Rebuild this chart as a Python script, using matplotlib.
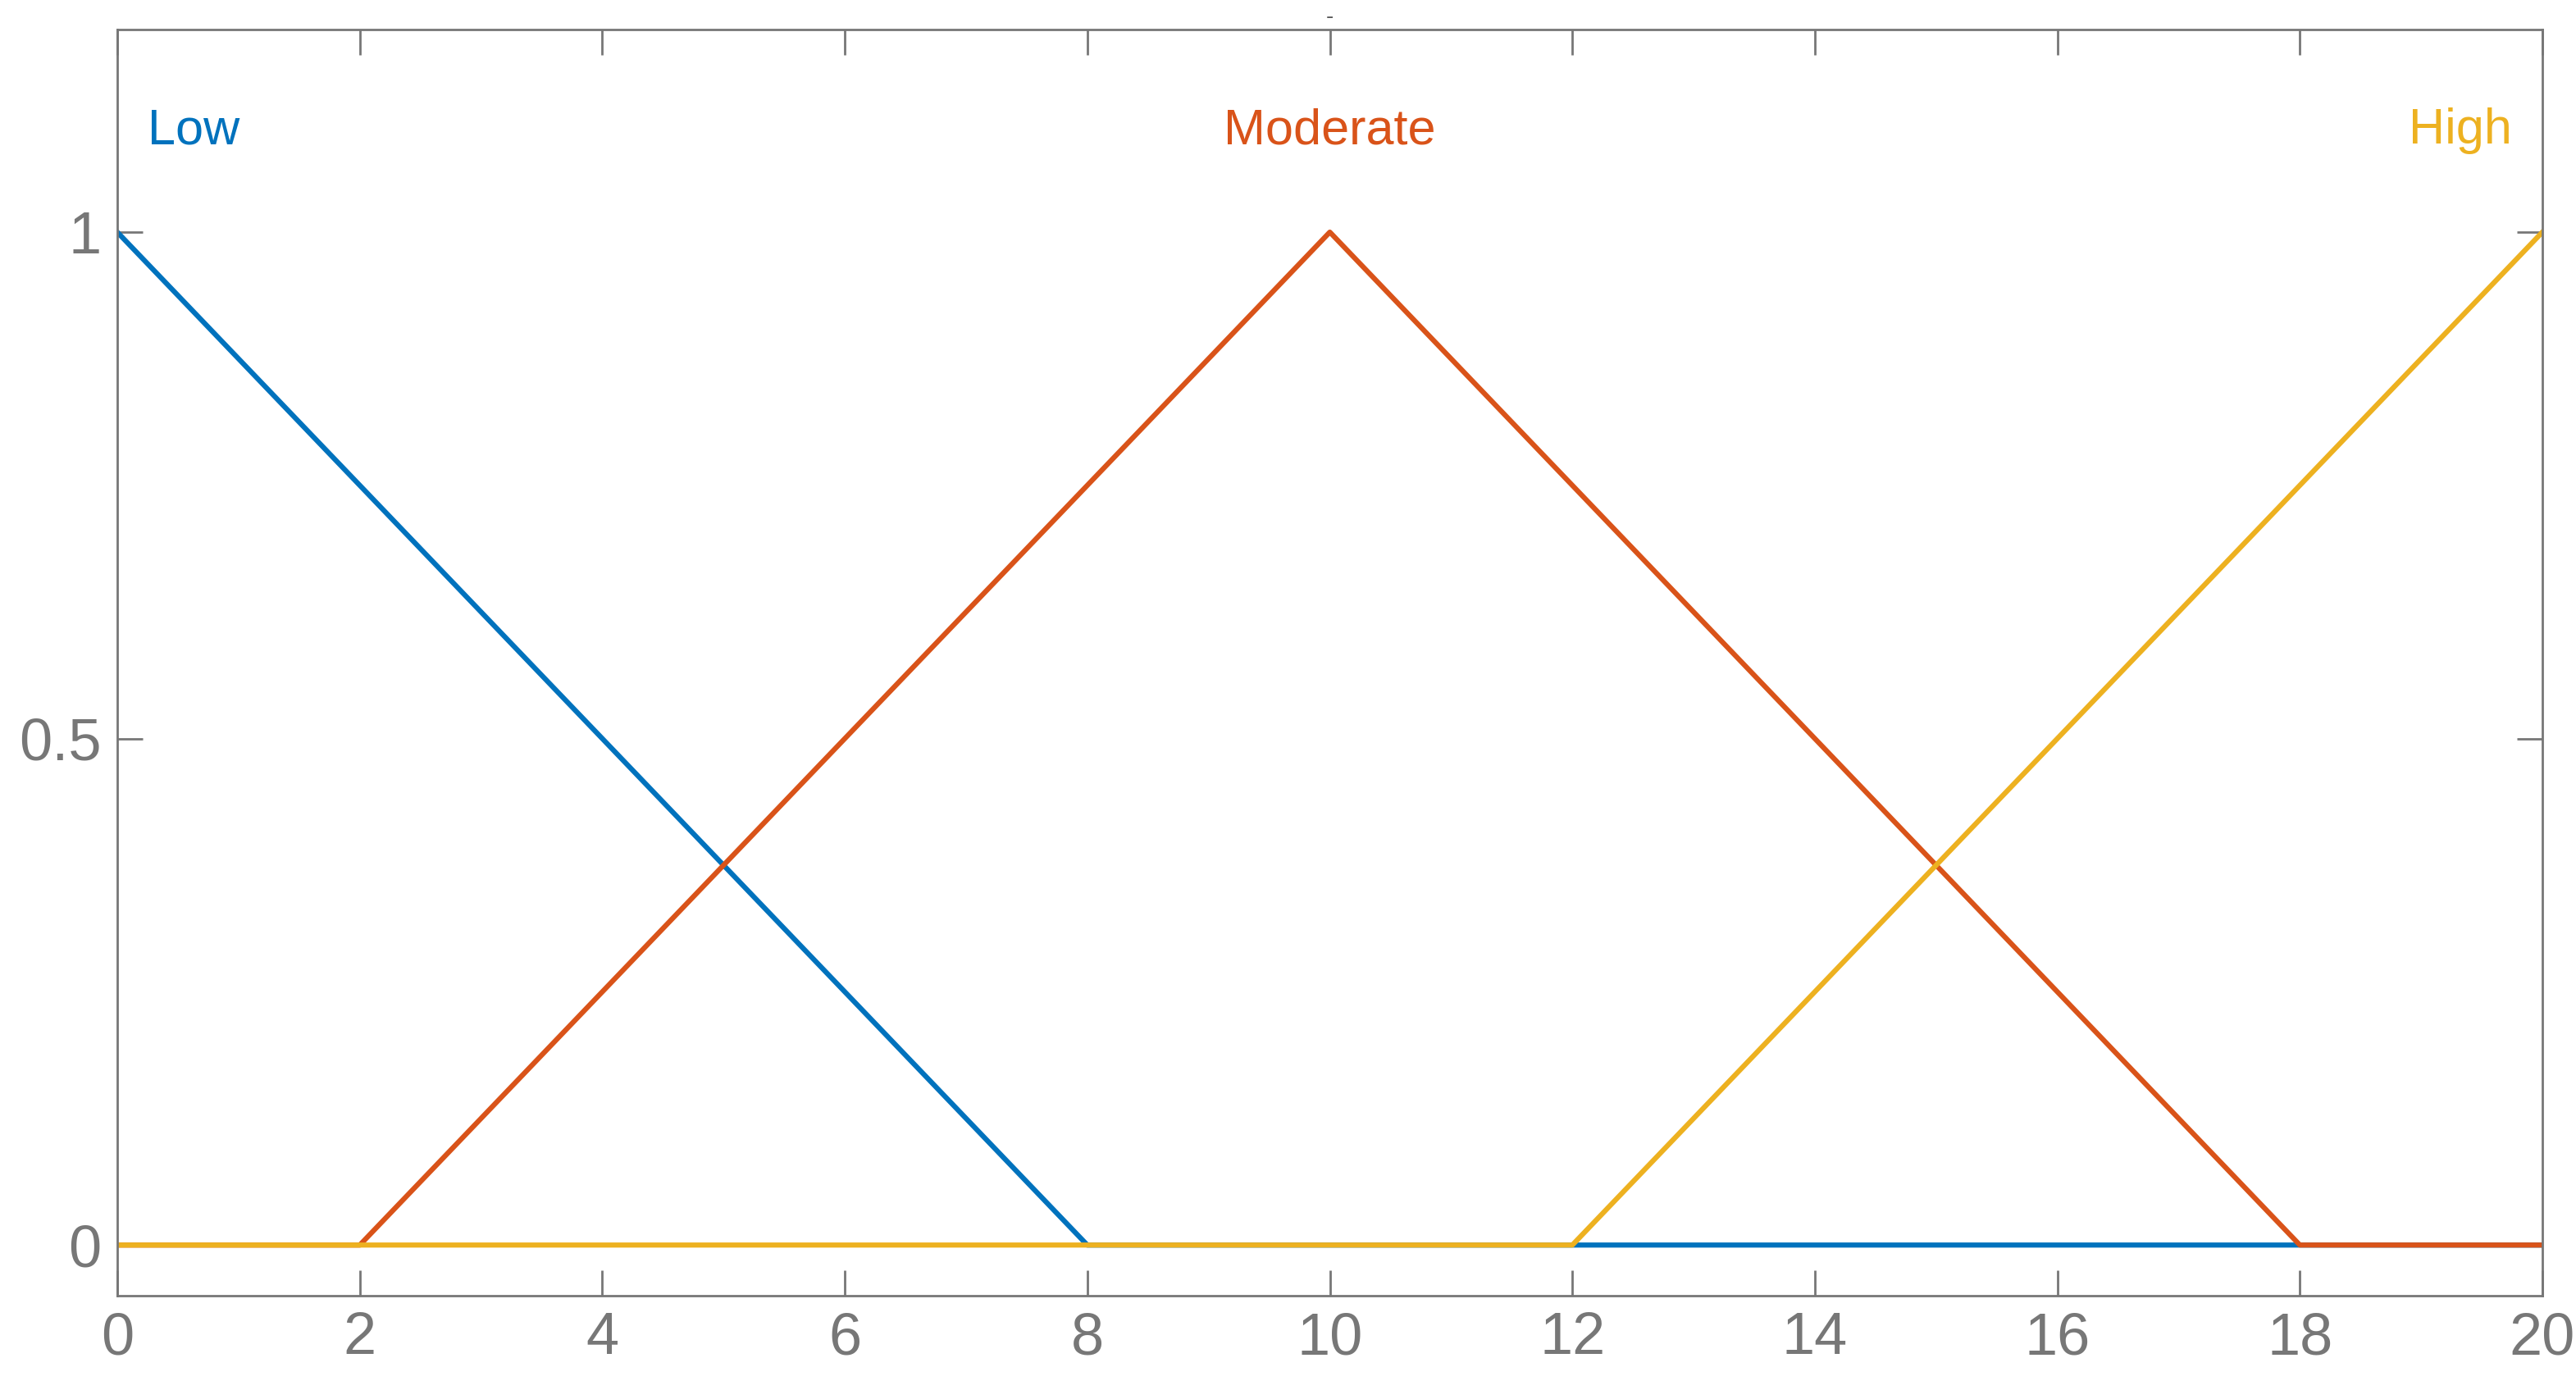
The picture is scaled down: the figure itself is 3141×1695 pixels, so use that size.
import matplotlib.pyplot as plt

plt.rcParams['font.family'] = ['Liberation Sans', 'DejaVu Sans']

# membership functions (vertices)
low_x = [0, 8, 20]
low_y = [1, 0, 0]
mod_x = [0, 2, 10, 18, 20]
mod_y = [0, 0, 1, 0, 0]
high_x = [0, 12, 20]
high_y = [0, 0, 1]

labels = ["Low", "Moderate", "High"]
colors = ["#0072BD", "#D95319", "#EDB120"]

fig = plt.figure(figsize=(31.41, 16.95), dpi=100)
ax = fig.add_axes([143/3141, 1-1580/1695, (3100-143)/3141, (1580-36)/1695])

ax.plot(low_x, low_y, color=colors[0], lw=4.5)
ax.plot(mod_x, mod_y, color=colors[1], lw=4.5)
ax.plot(high_x, high_y, color=colors[2], lw=4.5)

ax.text(0.25, 1.1, labels[0], color=colors[0], fontsize=44, va="center", ha="left")
ax.text(10, 1.1, labels[1], color=colors[1], fontsize=44, va="center", ha="center")
ax.text(19.75, 1.1, labels[2], color=colors[2], fontsize=44, va="center", ha="right")

ax.set_xlim(0, 20)
ax.set_ylim(-0.05, 1.2)
ax.set_xticks(range(0, 21, 2))
ax.set_yticks([0, 0.5, 1])
ax.set_yticklabels(["0", "0.5", "1"])
ax.tick_params(direction="in", length=22, width=2, colors="#777777",
               labelsize=52, top=True, right=True, pad=14)
for s in ax.spines.values():
    s.set_color("#777777")
    s.set_linewidth(2)
ax.set_title("-", fontsize=20, color="#555555")

fig.savefig("out.png")
